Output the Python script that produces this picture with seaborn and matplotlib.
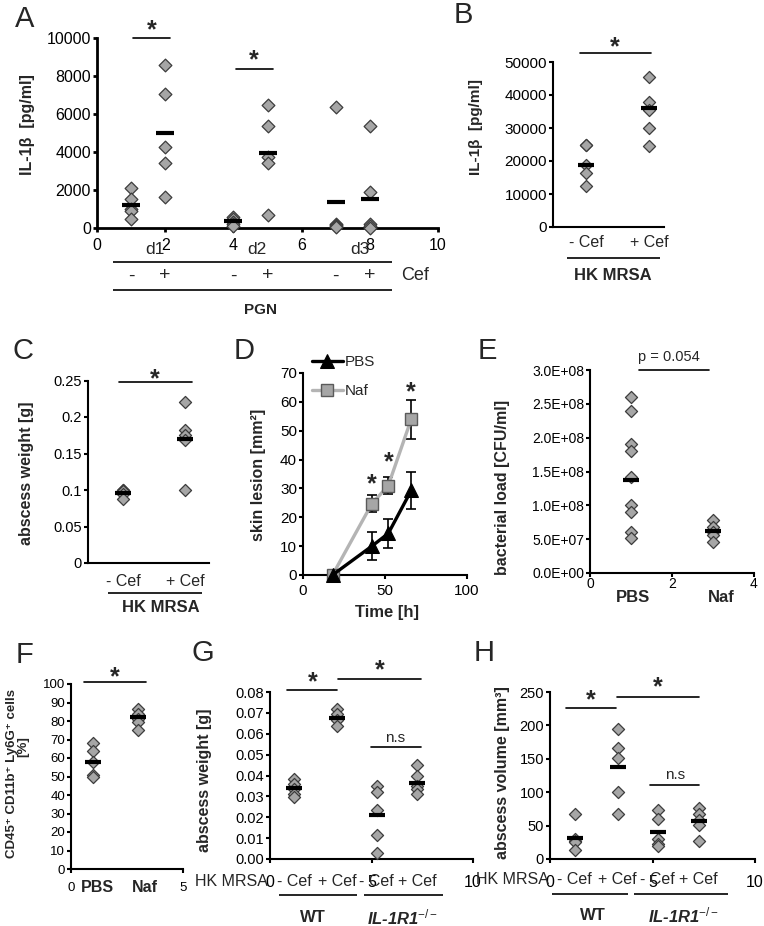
import numpy as np
import pandas as pd
import matplotlib
matplotlib.use("Agg")
import matplotlib.pyplot as plt
import matplotlib.transforms as mtransforms
from matplotlib.ticker import FuncFormatter
import seaborn as sns

sns.set_style("ticks")
plt.rcParams["font.family"] = ["Liberation Sans", "DejaVu Sans"]
plt.rcParams["mathtext.fontset"] = "custom"
plt.rcParams["mathtext.rm"] = "Liberation Sans"
plt.rcParams["mathtext.it"] = "Liberation Sans:italic"
plt.rcParams["mathtext.bf"] = "Liberation Sans:bold"

# ---------------- data ----------------
# A: IL-1b after PGN, days 1-3, without / with Cef
a_pos = [1, 2, 4, 5, 7, 8]
a_signs = ["-", "+", "-", "+", "-", "+"]
a_days = ["d1", "d2", "d3"]
a_vals = [
    [2100, 1550, 1000, 900, 450],
    [8600, 7050, 4250, 3400, 1650],
    [600, 450, 300, 200, 100],
    [6450, 5350, 3750, 3400, 700],
    [6350, 200, 150, 100, 50],
    [5350, 1870, 230, 100, 0],
]
a_mean = [1230, 5000, 350, 3930, 1390, 1510]

# B: IL-1b, HK MRSA
b_labels = ["- Cef", "+ Cef"]
b_vals = [[25000, 24700, 18800, 16500, 12500],
          [45400, 38000, 35500, 30100, 24500]]
b_mean = [18800, 36000]

# C: abscess weight, HK MRSA
c_vals = [[0.100, 0.100, 0.099, 0.095, 0.088],
          [0.220, 0.182, 0.175, 0.168, 0.100]]
c_mean = [0.096, 0.170]

# D: skin lesion over time
d_time = [18, 42, 52, 66]
d_pbs = [0, 10.0, 14.4, 29.3]
d_pbs_err = [0, 4.8, 5.0, 6.3]
d_naf = [0, 24.7, 31.0, 54.0]
d_naf_err = [0, 3.0, 2.9, 6.8]
d_star = [34.0, 41.5, 66.0]

# E: bacterial load
e_labels = ["PBS", "Naf"]
e_vals = [[2.6e8, 2.4e8, 1.9e8, 1.8e8, 1.42e8, 1.0e8, 0.9e8, 0.61e8, 0.52e8],
          [0.79e8, 0.68e8, 0.61e8, 0.56e8, 0.46e8]]
e_mean = [1.37e8, 0.62e8]

# F: CD45+ CD11b+ Ly6G+ cells
f_labels = ["PBS", "Naf"]
f_vals = [[68, 64, 58, 51, 49.5], [86.5, 84, 81, 79.5, 75]]
f_mean = [58, 82]

# G / H: WT vs IL-1R1-/-
gh_pos = [1.2, 3.3, 5.25, 7.25]
gh_labels = ["- Cef", "+ Cef", "- Cef", "+ Cef"]
g_vals = [[0.0385, 0.036, 0.0335, 0.031, 0.0298],
          [0.072, 0.0695, 0.0665, 0.0636],
          [0.035, 0.032, 0.0235, 0.0115, 0.003],
          [0.045, 0.0397, 0.035, 0.0335, 0.031]]
g_mean = [0.0338, 0.0677, 0.021, 0.0366]
h_vals = [[68, 30, 27, 25, 13],
          [194, 166, 151, 101, 68],
          [73, 60, 30, 22, 20],
          [77, 68, 58, 51, 27]]
h_mean = [32, 137, 41, 57]

GREY = "#a6a6a6"
EDGE = "#3c3c3c"
STAR = 18

W, H = 764, 926
fig = plt.figure(figsize=(W / 100, H / 100), dpi=100)


def base(x0, x1, ybot, ytop, lw=1.5, size=10.5):
    ax = fig.add_axes([x0 / W, 1 - ybot / H, (x1 - x0) / W, (ybot - ytop) / H])
    ax.set_facecolor("none")
    for side in ["top", "right"]:
        ax.spines[side].set_visible(False)
    for side in ["left", "bottom"]:
        ax.spines[side].set_linewidth(lw)
        ax.spines[side].set_color("black")
    ax.tick_params(direction="out", length=2.8, width=lw, color="black",
                   labelcolor="black", pad=1.5, labelsize=size)
    return ax


def diamonds(ax, pos, groups, means, s=38, mw=12):
    df = pd.DataFrame({"x": np.repeat(pos, [len(g) for g in groups]).astype(float),
                       "y": np.concatenate(groups)})
    sns.scatterplot(data=df, x="x", y="y", ax=ax, marker="D", s=s, color=GREY,
                    edgecolor=EDGE, linewidth=0.9, zorder=3, clip_on=False, legend=False)
    ax.plot(pos, means, ls="none", marker="_", ms=mw, mew=3, color="black",
            zorder=4, clip_on=False)
    ax.set_xlabel("")
    ax.set_ylabel("")


def blend(ax):
    return mtransforms.blended_transform_factory(ax.transData, fig.transFigure)


def xtext(ax, x, py, s, **kw):
    ax.text(x, 1 - py / H, s, transform=blend(ax), ha="center", va="center",
            clip_on=False, **kw)


def xline(ax, xa, xb, py, lw=1.2):
    ax.plot([xa, xb], [1 - py / H] * 2, transform=blend(ax), color="black",
            lw=lw, clip_on=False, solid_capstyle="butt")


def star(ax, x, y):
    ax.annotate("*", xy=(x, y), xytext=(0, -0.58 * STAR), textcoords="offset points",
                ha="center", va="baseline", fontsize=STAR, fontweight="bold",
                annotation_clip=False)


def sig(ax, xa, xb, y, xs, ys, label="*", size=11, **kw):
    ax.plot([xa, xb], [y, y], color="black", lw=1.2, clip_on=False)
    if label == "*":
        star(ax, xs, ys)
    else:
        ax.text(xs, ys, label, ha="center", va="center", fontsize=size,
                clip_on=False, **kw)


def ylab(px, py, s, size=11, **kw):
    fig.text(px / W, 1 - py / H, s, rotation=90, ha="center", va="center",
             fontsize=size, fontweight="bold", **kw)


def letter(px, py, s):
    fig.text(px / W, 1 - py / H, s, ha="center", va="center", fontsize=21)


# ---------------- A ----------------
ax = base(97, 438, 228, 38, lw=2, size=11.5)
diamonds(ax, a_pos, a_vals, a_mean, s=42, mw=13)
ax.set_xticks(range(0, 11, 2))
ax.set_yticks(range(0, 10001, 2000))
ax.tick_params(axis="x", pad=4.7)
ax.set_xlim(0, 10)
ax.set_ylim(0, 10000)
sig(ax, 1.05, 2.15, 10000, 1.61, 10800)
sig(ax, 4.07, 5.15, 8370, 4.6, 9210)
for i, d in enumerate(a_days):
    xtext(ax, (a_pos[2 * i] + a_pos[2 * i + 1]) / 2 + 0.2, 249, d, fontsize=12.5)
for x, sgn in zip(a_pos, a_signs):
    xtext(ax, x, 276, sgn, fontsize=14)
xline(ax, 0.47, 8.65, 262)
xline(ax, 0.47, 8.65, 290)
xtext(ax, 9.33, 276, "Cef", fontsize=13)
xtext(ax, 4.8, 310, "PGN", fontsize=11, fontweight="bold")
ylab(28, 125, "IL-1β  [pg/ml]", size=11.5)
letter(25, 19, "A")

# ---------------- B ----------------
ax = base(553, 664, 227, 62, size=11)
diamonds(ax, [1, 2], b_vals, b_mean)
ax.set_xticks([])
ax.set_yticks(range(0, 50001, 10000))
ax.set_xlim(0.476, 2.238)
ax.set_ylim(0, 50000)
sig(ax, 0.905, 2.03, 52700, 1.46, 56700)
for x, lab in zip([1, 2], b_labels):
    xtext(ax, x, 243, lab, fontsize=11.5)
xline(ax, 0.70, 2.17, 258)
xtext(ax, 1.43, 276, "HK MRSA", fontsize=12, fontweight="bold")
ylab(476, 127, "IL-1β  [pg/ml]", size=11)
letter(463, 15, "B")

# ---------------- C ----------------
ax = base(88, 209, 563, 380.5, size=10.5)
diamonds(ax, [1, 2], c_vals, c_mean)
ax.set_xticks([])
ax.set_yticks(np.round(np.arange(0, 0.2501, 0.05), 2))
ax.yaxis.set_major_formatter(FuncFormatter(lambda v, p: f"{v:g}"))
ax.set_xlim(0.435, 2.387)
ax.set_ylim(0, 0.25)
sig(ax, 0.935, 2.11, 0.248, 1.52, 0.2616)
for x, lab in zip([1, 2], b_labels):
    xtext(ax, x, 582, lab, fontsize=11.5)
xline(ax, 0.758, 2.27, 593)
xtext(ax, 1.61, 608, "HK MRSA", fontsize=12, fontweight="bold")
ylab(27, 473, "abscess weight [g]", size=11.5)
letter(23, 351, "C")

# ---------------- D ----------------
ax = base(303, 467, 575, 373, size=11)
ax.errorbar(d_time, d_pbs, yerr=d_pbs_err, fmt="none", ecolor="black",
            elinewidth=1.2, capsize=3.6, capthick=1.2, zorder=2)
ax.errorbar(d_time, d_naf, yerr=d_naf_err, fmt="none", ecolor="black",
            elinewidth=1.2, capsize=3.6, capthick=1.2, zorder=2)
sns.lineplot(x=d_time, y=d_pbs, ax=ax, color="black", lw=2.4, marker="^", ms=10,
             mec="black", mfc="black", label="PBS", zorder=4, clip_on=False)
sns.lineplot(x=d_time, y=d_naf, ax=ax, color="#b4b4b4", lw=2.4, marker="s", ms=9,
             mec="#5a5a5a", mfc=GREY, mew=1, label="Naf", zorder=3, clip_on=False)
for t, ys in zip(d_time[1:], d_star):
    star(ax, t, ys)
ax.set_xticks([0, 50, 100])
ax.set_yticks(range(0, 71, 10))
ax.tick_params(axis="x", pad=4)
ax.set_xlim(0, 100)
ax.set_ylim(0, 70)
ax.set_xlabel("")
ax.set_ylabel("")
ax.legend(loc="upper left", bbox_to_anchor=(0.055, 1.089), frameon=False,
          borderaxespad=0, borderpad=0, handletextpad=0.15, labelspacing=1.0,
          handlelength=2.0, fontsize=11, numpoints=1)
fig.text(387 / W, 1 - 612 / H, "Time [h]", ha="center", va="center",
         fontsize=12, fontweight="bold")
ylab(259, 475, "skin lesion [mm²]", size=11.5)
letter(244, 351, "D")

# ---------------- E ----------------
ax = base(590, 754, 573, 370, size=10)
diamonds(ax, [1, 3], e_vals, e_mean)
ax.set_xticks([0, 2, 4])
ax.set_yticks(np.arange(0, 3.01e8, 0.5e8))
ax.yaxis.set_major_formatter(FuncFormatter(lambda v, p: f"{v:.1E}"))
ax.tick_params(axis="x", pad=0)
ax.set_xlim(0, 4)
ax.set_ylim(0, 3e8)
sig(ax, 1.195, 2.9, 3.0e8, 1.93, 3.19e8, label="p = 0.054", size=10.5)
for x, lab in zip([1.05, 3.2], e_labels):
    xtext(ax, x, 598, lab, fontsize=12, fontweight="bold")
ylab(503, 487, "bacterial load [CFU/ml]", size=11.5)
letter(487, 351, "E")

# ---------------- F ----------------
ax = base(71, 183, 869, 684, size=9.5)
diamonds(ax, [1, 3], f_vals, f_mean)
ax.set_xticks([0, 5])
ax.set_yticks(range(0, 101, 10))
ax.tick_params(axis="x", pad=6.5)
ax.set_xlim(0, 5)
ax.set_ylim(0, 100)
sig(ax, 0.58, 3.35, 101, 1.96, 107.6)
for x, lab in zip([1.16, 3.3], f_labels):
    xtext(ax, x, 888, lab, fontsize=11.5, fontweight="bold")
ylab(12, 774, "CD45⁺ CD11b⁺ Ly6G⁺ cells", size=9.5)
ylab(23, 747, "[%]", size=9.5)
letter(25, 655, "F")


# ---------------- G / H ----------------
def knockout_panel(x0, x1, vals, means, yticks, ylim, fmt, bars, hk_px, row_y, lines, lab_y):
    ax = base(x0, x1, 859, 692, size=10.5)
    diamonds(ax, gh_pos, vals, means)
    ax.set_xticks([0, 5, 10])
    ax.set_yticks(yticks)
    ax.yaxis.set_major_formatter(FuncFormatter(fmt))
    ax.tick_params(axis="x", pad=8.8, labelsize=11.5)
    ax.set_xlim(0, 10)
    ax.set_ylim(*ylim)
    (b1, b2, ns) = bars
    sig(ax, *b1)
    sig(ax, *b2)
    sig(ax, *ns, label="n.s", size=11)
    fig.text(hk_px / W, 1 - row_y / H, "HK MRSA", ha="center", va="center",
             fontsize=11.5)
    for x, lab in zip(gh_pos, gh_labels):
        xtext(ax, x, row_y, lab, fontsize=11.5)
    (wa, wb), (ka, kb), (wx, kx) = lines
    xline(ax, wa, wb, row_y + 14)
    xline(ax, ka, kb, row_y + 14)
    xtext(ax, wx, lab_y, "WT", fontsize=12, fontweight="bold")
    xtext(ax, kx, lab_y, "IL-1R1$^{-/-}$", fontsize=12, fontweight="bold", style="italic")
    return ax


knockout_panel(270, 473, g_vals, g_mean, np.round(np.arange(0, 0.0801, 0.01), 2), (0, 0.08),
               lambda v, p: f"{v:.2f}",
               ((0.84, 3.3, 0.081, 2.12, 0.0881),
                (3.35, 7.44, 0.0862, 5.42, 0.0939),
                (4.98, 7.44, 0.0537, 6.16, 0.058)),
               231, 881, ((0.44, 4.29), (4.63, 8.52), (2.12, 6.55)), 917)
ylab(205, 780, "abscess weight [g]", size=11.5)
letter(203, 653, "G")

knockout_panel(550, 755, h_vals, h_mean, range(0, 251, 50), (0, 250),
               lambda v, p: f"{v:g}",
               ((0.78, 3.22, 226, 2.0, 248.5),
                (3.27, 7.27, 242.5, 5.27, 268),
                (4.88, 7.27, 110.8, 6.1, 125.7)),
               512, 880, ((0.1, 3.8), (4.1, 8.68), (2.07, 6.5)), 915)
ylab(502, 773, "abscess volume [mm³]", size=11.5)
letter(484, 653, "H")

fig.savefig("out.png", dpi=100)
